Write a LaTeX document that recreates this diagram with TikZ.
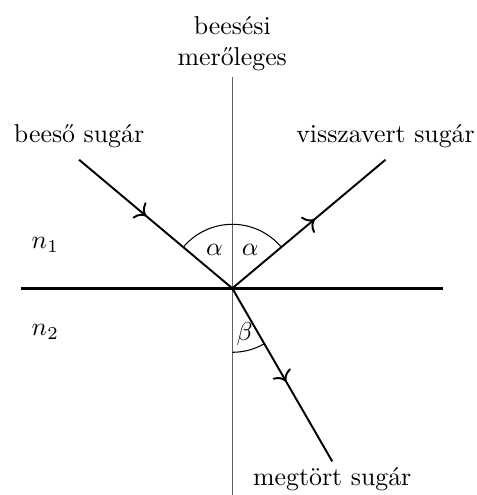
\documentclass[tikz,border=0pt]{standalone}
\usepackage{amsmath}
\usetikzlibrary{arrows.meta, positioning, decorations.markings, angles, quotes}

\begin{document}
\begin{tikzpicture}[
  ray/.style={line width=1.1pt, postaction={decorate},
              decoration={markings, mark=at position #1 with {\arrow{To[scale=1.4]}}}},
  surf/.style={line width=1.9pt},
  norm/.style={line width=0.7pt, black!62},
  txt/.style={font=\fontsize{10}{12}\selectfont, scale=1.47, transform shape, inner sep=2.2pt},
  lbl/.style={txt, align=center},
  ang/.style={draw, line width=0.6pt, angle radius=1.28cm}
]
\useasboundingbox (-4.646,-4.134) rectangle (4.894,5.766);

\coordinate (O)    at (0,0);
\coordinate (inc)  at (140:4);
\coordinate (refl) at (40:4);
\coordinate (refr) at (-60:4);
\coordinate (nt)   at (0,4.23);
\coordinate (nb)   at (0,-4.14);
\coordinate (sl)   at (-4.23,0);
\coordinate (sr)   at (4.22,0);

% normal and surface
\draw[norm] (nb) -- (nt);
\draw[surf] (sl) -- (sr);

% rays
\draw[ray=0.44] (inc) -- (O);
\draw[ray=0.54] (O) -- (refl);
\draw[ray=0.54] (O) -- (refr);

% angles
\pic[ang, "$\alpha$"{txt}, angle eccentricity=0.66] {angle=nt--O--inc};
\pic[ang, "$\alpha$"{txt}, angle eccentricity=0.66] {angle=refl--O--nt};
\pic[ang, "$\beta$"{txt}, angle eccentricity=0.74] {angle=nb--O--refr};

% labels
\node[lbl, above=0pt of nt]     (tnorm) {beesési\\merőleges};
\node[lbl, above=0.12 of inc]   (tinc)  {beeső sugár};
\node[lbl, above=0.12 of refl]  (trefl) {visszavert sugár};
\node[lbl, below=0pt of refr]   (trefr) {megtört sugár};
\node[lbl] (n1) at (-3.74,0.87)  {$n_1$};
\node[lbl] (n2) at (-3.74,-0.87) {$n_2$};
\end{tikzpicture}
\end{document}
